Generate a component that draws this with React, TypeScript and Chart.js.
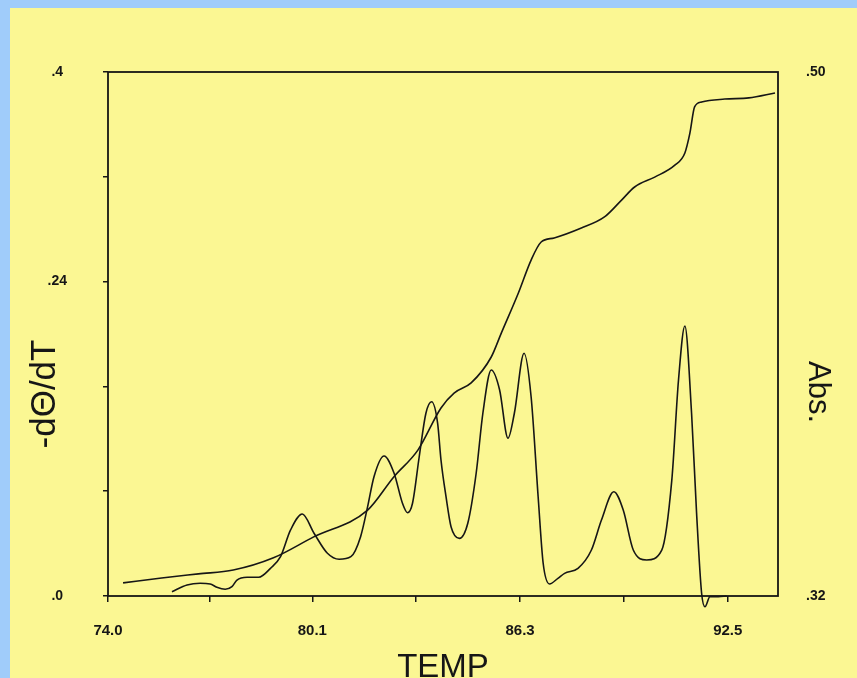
import React, { useEffect, useRef } from "react";
import { Chart, registerables } from "chart.js";

Chart.register(...registerables);

// -dΘ/dT (left axis) trace
const DTHETA_TEMP = [
  75.91, 76.36, 76.75, 77.05, 77.25, 77.5, 77.7, 77.85, 78.15, 78.5, 78.85, 79.15, 79.45, 79.8,
  80.15, 80.55, 80.9, 81.25, 81.54, 81.75, 81.94, 82.24, 82.54, 82.79, 82.94, 83.09, 83.29,
  83.49, 83.66, 83.84, 83.94, 84.09, 84.24, 84.49, 84.74, 84.99, 85.19, 85.44, 85.69, 85.94,
  86.13, 86.42, 86.63, 86.84, 86.99, 87.18, 87.43, 87.63, 88.03, 88.43, 88.73, 89.1, 89.38,
  89.68, 90.08, 90.53, 90.83, 91.03, 91.22, 91.42, 91.57, 91.72, 91.82, 91.97, 92.22, 92.47,
];
const DTHETA = [
  0.0033, 0.0084, 0.0097, 0.0092, 0.0066, 0.0051, 0.0071, 0.0122, 0.0143, 0.0143, 0.0211,
  0.03, 0.0504, 0.0626, 0.0479, 0.0326, 0.028, 0.03, 0.0453, 0.0682, 0.0911, 0.1069, 0.0937,
  0.0708, 0.0636, 0.0708, 0.1063, 0.1395, 0.1483, 0.1318, 0.1038, 0.0758, 0.0529, 0.044,
  0.0555, 0.0937, 0.1395, 0.1725, 0.1573, 0.1204, 0.1395, 0.1853, 0.1521, 0.0758, 0.025,
  0.0092, 0.0135, 0.0173, 0.0211, 0.0351, 0.058, 0.0796, 0.0656, 0.0351, 0.0275, 0.0351,
  0.0885, 0.1649, 0.2061, 0.1395, 0.0631, 0.0021, -0.0082, -0.0005, -0.0005, 0.0,
];

// Abs. (right axis) trace
const ABS_TEMP = [
  74.45, 75.6, 76.7, 77.74, 78.94, 80.14, 81.75, 82.53, 83.25, 83.94, 84.33, 84.84, 85.44,
  85.74, 86.25, 86.63, 86.93, 87.32, 88.13, 88.82, 89.33, 89.72, 90.32, 90.92, 91.22, 91.37,
  91.51, 91.72, 92.41, 93.13, 93.91,
];
const ABS = [
  0.3245, 0.3262, 0.3276, 0.3289, 0.3331, 0.3403, 0.3495, 0.3609, 0.3701, 0.3846, 0.3897,
  0.3932, 0.4021, 0.4103, 0.4241, 0.4354, 0.4416, 0.443, 0.4464, 0.4502, 0.456, 0.4605,
  0.4639, 0.468, 0.4722, 0.479, 0.488, 0.4897, 0.4907, 0.4911, 0.4928,
];

const X_TICKS = [74.0, 77.05, 80.1, 83.2, 86.3, 89.4, 92.5];
const X_TICK_LABELS = ["74.0", "", "80.1", "", "86.3", "", "92.5"];
const Y_TICKS = [0, 0.08, 0.16, 0.24, 0.32, 0.4];
const Y_TICK_LABELS = [".0", "", "", ".24", "", ".4"];
const ABS_TICKS = [0.32, 0.5];
const ABS_TICK_LABELS = [".32", ".50"];

const X_TITLE = "TEMP";
const Y_TITLE = "-dΘ/dT";
const Y2_TITLE = "Abs.";

const INK = "#161616";
const YELLOW = "#fbf793";
const BLUE = "#a0ccfa";
const FONT = "'Liberation Sans', Arial, Helvetica, sans-serif";

const boxAndTitles = {
  id: "boxAndTitles",
  beforeDatasetsDraw(chart: any) {
    const { ctx, chartArea } = chart;
    ctx.save();
    ctx.strokeStyle = INK;
    ctx.lineWidth = 1.8;
    ctx.strokeRect(chartArea.left, chartArea.top, chartArea.right - chartArea.left, chartArea.bottom - chartArea.top);
    ctx.restore();
  },
  afterDraw(chart: any) {
    const { ctx, chartArea } = chart;
    ctx.save();
    ctx.fillStyle = INK;
    ctx.textAlign = "center";
    ctx.textBaseline = "middle";
    ctx.font = `35px ${FONT}`;
    ctx.translate(chartArea.left - 63, chartArea.top + 322);
    ctx.rotate(-Math.PI / 2);
    ctx.fillText(Y_TITLE, 0, 0);
    ctx.restore();

    ctx.save();
    ctx.fillStyle = INK;
    ctx.textAlign = "center";
    ctx.textBaseline = "middle";
    ctx.font = `31px ${FONT}`;
    ctx.translate(chartArea.right + 40, chartArea.top + 320);
    ctx.rotate(Math.PI / 2);
    ctx.fillText(Y2_TITLE, 0, 0);
    ctx.restore();
  },
};

export default function App() {
  const ref = useRef<HTMLCanvasElement | null>(null);

  useEffect(() => {
    if (!ref.current) return;
    const chart = new Chart(ref.current, {
      type: "line",
      data: {
        datasets: [
          {
            label: Y_TITLE,
            data: DTHETA_TEMP.map((t, i) => ({ x: t, y: DTHETA[i] })),
            yAxisID: "y",
            borderColor: INK,
            borderWidth: 1.6,
            pointRadius: 0,
            fill: false,
            cubicInterpolationMode: "monotone",
            clip: 15,
          } as any,
          {
            label: Y2_TITLE,
            data: ABS_TEMP.map((t, i) => ({ x: t, y: ABS[i] })),
            yAxisID: "y1",
            borderColor: INK,
            borderWidth: 1.6,
            pointRadius: 0,
            fill: false,
            cubicInterpolationMode: "monotone",
          } as any,
        ],
      },
      options: {
        responsive: false,
        animation: false,
        layout: { padding: { top: 64, left: 0, right: 0, bottom: 0 } },
        plugins: { legend: { display: false }, tooltip: { enabled: false } },
        font: { family: FONT },
        scales: {
          x: {
            type: "linear",
            position: "bottom",
            min: 74,
            max: 94,
            afterBuildTicks: (s: any) => {
              s.ticks = X_TICKS.map((v) => ({ value: v }));
            },
            afterFit: (s: any) => {
              s.height = 82;
            },
            ticks: {
              autoSkip: false,
              maxRotation: 0,
              padding: 20,
              color: INK,
              font: { family: FONT, size: 15, weight: "bold" },
              callback: (_v: any, i: number) => X_TICK_LABELS[i],
            },
            grid: { drawOnChartArea: false, drawTicks: true, tickLength: 6, color: INK, lineWidth: 1.5 },
            border: { display: false },
            title: {
              display: true,
              text: X_TITLE,
              color: INK,
              font: { family: FONT, size: 33, lineHeight: 0.6 },
              padding: { top: 0, bottom: 0 },
            },
          },
          y: {
            type: "linear",
            position: "left",
            min: 0,
            max: 0.4,
            afterBuildTicks: (s: any) => {
              s.ticks = Y_TICKS.map((v) => ({ value: v }));
            },
            afterFit: (s: any) => {
              s.width = 98;
            },
            ticks: {
              autoSkip: false,
              crossAlign: "center",
              padding: 36,
              color: INK,
              font: { family: FONT, size: 14, weight: "bold" },
              callback: (_v: any, i: number) => Y_TICK_LABELS[i],
            },
            grid: { drawOnChartArea: false, drawTicks: true, tickLength: 5, color: INK, lineWidth: 1.5 },
            border: { display: false },
          },
          y1: {
            type: "linear",
            position: "right",
            min: 0.32,
            max: 0.5,
            afterBuildTicks: (s: any) => {
              s.ticks = ABS_TICKS.map((v) => ({ value: v }));
            },
            afterFit: (s: any) => {
              s.width = 79;
            },
            ticks: {
              autoSkip: false,
              crossAlign: "center",
              padding: 28,
              color: INK,
              font: { family: FONT, size: 14, weight: "bold" },
              callback: (_v: any, i: number) => ABS_TICK_LABELS[i],
            },
            grid: { drawOnChartArea: false, drawTicks: false },
            border: { display: false },
          },
        },
      } as any,
      plugins: [boxAndTitles],
    });
    return () => chart.destroy();
  }, []);

  return (
    <div
      style={{
        position: "fixed",
        left: 0,
        top: 0,
        width: 857,
        height: 678,
        boxSizing: "border-box",
        background: YELLOW,
        borderLeft: `10px solid ${BLUE}`,
        borderTop: `8px solid ${BLUE}`,
        overflow: "hidden",
      }}
    >
      <canvas ref={ref} width={847} height={670} style={{ display: "block", width: 847, height: 670 }} />
    </div>
  );
}
